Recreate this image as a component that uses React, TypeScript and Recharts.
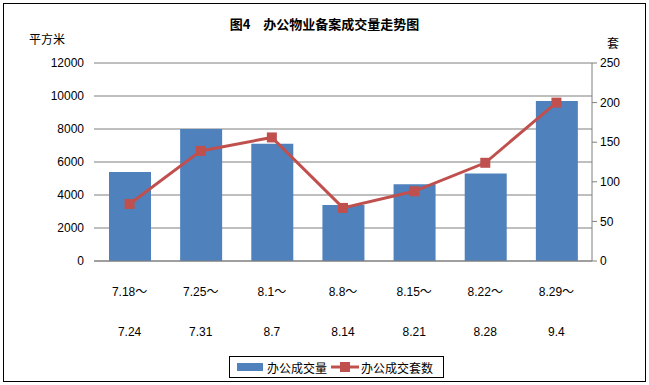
import { Bar, CartesianGrid, ComposedChart, Line, XAxis, YAxis } from "recharts";

const periods = ["7.18～7.24", "7.25～7.31", "8.1～8.7", "8.8～8.14", "8.15～8.21", "8.22～8.28", "8.29～9.4"];
const areaSold = [5400, 8000, 7100, 3400, 4650, 5300, 9700];
const unitsSold = [72, 139, 156, 67, 88, 124, 200];
const leftTicks = [0, 2000, 4000, 6000, 8000, 10000, 12000];
const rightTicks = [0, 50, 100, 150, 200, 250];

const data = periods.map((period, i) => ({ period, area: areaSold[i], units: unitsSold[i] }));

const font = "'Liberation Sans', 'Noto Sans CJK SC', sans-serif";
const cjk = "'Noto Sans CJK SC', sans-serif";

function PeriodTick({ x, y, payload }: any) {
  const [from, to] = String(payload.value).split("～");
  return (
    <g>
      <text x={x} y={y + 27} textAnchor="middle" fontSize={12} fontFamily={font} fill="#000">
        {from}～
      </text>
      <text x={x} y={y + 67} textAnchor="middle" fontSize={12} fontFamily={font} fill="#000">
        {to}
      </text>
    </g>
  );
}

function SquareDot({ cx, cy }: any) {
  return <rect x={cx - 5} y={cy - 5} width={10} height={10} fill="#C0504D" />;
}

export default function App() {
  return (
    <div style={{ position: "absolute", left: 0, top: 0, width: 649, height: 385, background: "#fff" }}>
      <div style={{ position: "absolute", left: 3, top: 3, width: 641, height: 377, border: "1px solid #000" }} />
      <div
        style={{
          position: "absolute", left: 0, top: 14, width: 649, textAlign: "center",
          fontFamily: cjk, fontSize: 13, fontWeight: 700,
        }}
      >
        图4　办公物业备案成交量走势图
      </div>
      <div style={{ position: "absolute", left: 29, top: 30, fontFamily: cjk, fontSize: 12 }}>平方米</div>
      <div style={{ position: "absolute", left: 607, top: 34, fontFamily: cjk, fontSize: 12 }}>套</div>
      <div style={{ position: "absolute", left: 0, top: 0 }}>
        <ComposedChart width={649} height={385} data={data} margin={{ top: 63, right: 0, bottom: 0, left: 0 }} barCategoryGap="20%">
          <CartesianGrid vertical={false} stroke="#7f7f7f" yAxisId="left" />
          <XAxis
            dataKey="period"
            height={124}
            tickLine={false}
            axisLine={{ stroke: "#7f7f7f" }}
            interval={0}
            tick={<PeriodTick />}
          />
          <YAxis
            yAxisId="left"
            width={94}
            domain={[0, 12000]}
            ticks={leftTicks}
            axisLine={false}
            tickLine={false}
            tickSize={0}
            tickMargin={10}
            tick={{ fill: "#000", fontSize: 12, fontFamily: font }}
          />
          <YAxis
            yAxisId="right"
            orientation="right"
            width={57}
            domain={[0, 250]}
            ticks={rightTicks}
            axisLine={{ stroke: "#7f7f7f" }}
            tickLine={{ stroke: "#7f7f7f" }}
            tickSize={5}
            tickMargin={3}
            tick={{ fill: "#000", fontSize: 12, fontFamily: font }}
          />
          <Bar yAxisId="left" dataKey="area" fill="#4F81BD" barSize={42} isAnimationActive={false} />
          <Line
            yAxisId="right"
            dataKey="units"
            stroke="#C0504D"
            strokeWidth={3}
            dot={<SquareDot />}
            activeDot={false}
            isAnimationActive={false}
          />
        </ComposedChart>
      </div>
      <div
        style={{
          position: "absolute", left: 229, top: 356, width: 215, height: 22, border: "1px solid #000",
          display: "flex", alignItems: "center", fontFamily: cjk, fontSize: 12, boxSizing: "border-box",
        }}
      >
        <span style={{ display: "inline-block", width: 26, height: 8, background: "#4F81BD", marginLeft: 7, marginRight: 4 }} />
        <span>办公成交量</span>
        <svg width={28} height={10} style={{ marginLeft: 4, marginRight: 2 }}>
          <line x1={0} y1={5} x2={28} y2={5} stroke="#C0504D" strokeWidth={3} />
          <rect x={9} y={0} width={10} height={10} fill="#C0504D" />
        </svg>
        <span>办公成交套数</span>
      </div>
    </div>
  );
}
